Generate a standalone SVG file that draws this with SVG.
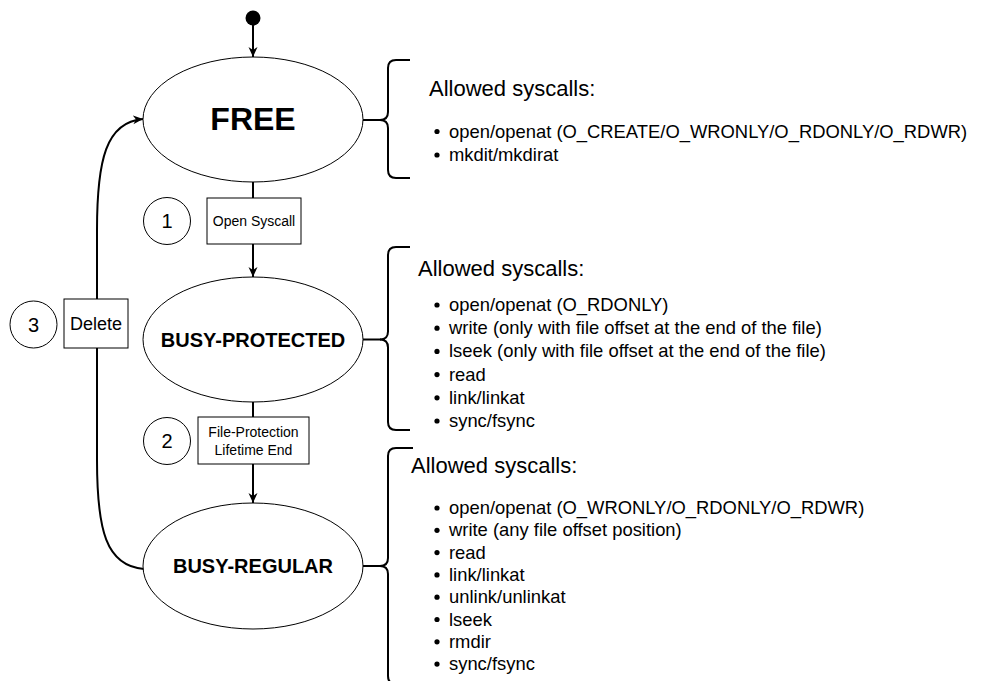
<svg xmlns="http://www.w3.org/2000/svg" width="984" height="681" viewBox="0 0 984 681">
<defs>
<marker id="arr" viewBox="0 0 10 10" refX="10" refY="5" markerWidth="10" markerHeight="10" markerUnits="userSpaceOnUse" orient="auto">
<path d="M0,0.5 L10,5 L0,9.5 L3,5 z" fill="#000"/>
</marker>
<style>
text{font-family:"Liberation Sans",Arial,Helvetica,sans-serif;fill:#000}
.state{fill:#fff;stroke:#000;stroke-width:1}
.box{fill:#fff;stroke:#000;stroke-width:1}
.num{fill:#fff;stroke:#000;stroke-width:1}
.edge{fill:none;stroke:#000;stroke-width:2}
.brace{fill:none;stroke:#000;stroke-width:2}
.title{font-size:20px;font-weight:bold;text-anchor:middle}
.lbl{font-size:14px;text-anchor:middle}
.numt{font-size:20px;text-anchor:middle}
.head{font-size:22px}
.item{font-size:18.4px}
</style>
</defs>
<rect width="984" height="681" fill="#fff"/>

<g id="connectors">
<line class="edge" x1="253" y1="25" x2="253" y2="57" marker-end="url(#arr)"/>
<line class="edge" x1="253" y1="182" x2="253" y2="198"/>
<line class="edge" x1="253" y1="244" x2="253" y2="277" marker-end="url(#arr)"/>
<line class="edge" x1="253" y1="402" x2="253" y2="417"/>
<line class="edge" x1="253" y1="464" x2="253" y2="503" marker-end="url(#arr)"/>
<path class="edge" d="M144,569 C106,566 97,530 97,460 L97,230 C97,160 106,122 143,119" marker-end="url(#arr)"/>
<line class="edge" x1="363" y1="120" x2="381" y2="120"/>
<line class="edge" x1="362" y1="339.5" x2="381" y2="339.5"/>
<line class="edge" x1="362" y1="566" x2="381" y2="566"/>
</g>

<g id="start">
<circle cx="253" cy="18" r="7.5" fill="#000"/>
</g>

<g id="free">
<ellipse class="state" cx="253" cy="119.5" rx="110" ry="62.5"/>
<text class="title" x="253" y="130" style="font-size:32px">FREE</text>
</g>

<g id="busy-protected">
<ellipse class="state" cx="253" cy="339.5" rx="110" ry="62.5"/>
<text class="title" x="253" y="346.5">BUSY-PROTECTED</text>
</g>

<g id="busy-regular">
<ellipse class="state" cx="253" cy="566" rx="110" ry="63"/>
<text class="title" x="253" y="573">BUSY-REGULAR</text>
</g>

<g id="open-syscall">
<rect class="box" x="207" y="198" width="94" height="46"/>
<text class="lbl" x="254" y="226">Open Syscall</text>
</g>
<g id="num1">
<circle class="num" cx="167" cy="221" r="23.5"/>
<text class="numt" x="167" y="228">1</text>
</g>

<g id="lifetime-end">
<rect class="box" x="198" y="417" width="111" height="47"/>
<text class="lbl" x="253.5" y="437">File-Protection</text>
<text class="lbl" x="253.5" y="455">Lifetime End</text>
</g>
<g id="num2">
<circle class="num" cx="167" cy="441" r="23.5"/>
<text class="numt" x="167" y="448">2</text>
</g>

<g id="delete">
<rect class="box" x="64" y="299" width="64" height="49"/>
<text class="lbl" x="96" y="330" style="font-size:18px">Delete</text>
</g>
<g id="num3">
<circle class="num" cx="33.5" cy="324.5" r="23.5"/>
<text class="numt" x="33.5" y="331.5">3</text>
</g>

<g id="free-syscalls">
<path class="brace" d="M410,60 L396,60 Q388,60 388,68 L388,112 Q388,120 380,120 Q388,120 388,128 L388,170 Q388,178 396,178 L410,178"/>
<text class="head" x="429" y="96">Allowed syscalls:</text>
<circle cx="437" cy="131.5" r="2.6"/>
<text class="item" x="449" y="137.5">open/openat (O_CREATE/O_WRONLY/O_RDONLY/O_RDWR)</text>
<circle cx="437" cy="155" r="2.6"/>
<text class="item" x="449" y="161">mkdit/mkdirat</text>
</g>

<g id="protected-syscalls">
<path class="brace" d="M410,247 L396,247 Q388,247 388,255 L388,331.5 Q388,339.5 380,339.5 Q388,339.5 388,347.5 L388,422 Q388,430 396,430 L410,430"/>
<text class="head" x="418" y="275.5">Allowed syscalls:</text>
<circle cx="437" cy="305" r="2.6"/>
<text class="item" x="449" y="311">open/openat (O_RDONLY)</text>
<circle cx="437" cy="328.2" r="2.6"/>
<text class="item" x="449" y="334.2">write (only with file offset at the end of the file)</text>
<circle cx="437" cy="351.4" r="2.6"/>
<text class="item" x="449" y="357.4">lseek (only with file offset at the end of the file)</text>
<circle cx="437" cy="374.6" r="2.6"/>
<text class="item" x="449" y="380.6">read</text>
<circle cx="437" cy="397.8" r="2.6"/>
<text class="item" x="449" y="403.8">link/linkat</text>
<circle cx="437" cy="421" r="2.6"/>
<text class="item" x="449" y="427">sync/fsync</text>
</g>

<g id="regular-syscalls">
<path class="brace" d="M413,448 L396,448 Q388,448 388,456 L388,558 Q388,566 380,566 Q388,566 388,574 L388,676 Q388,684 396,684 L413,684"/>
<text class="head" x="411" y="473">Allowed syscalls:</text>
<circle cx="437" cy="508" r="2.6"/>
<text class="item" x="449" y="514">open/openat (O_WRONLY/O_RDONLY/O_RDWR)</text>
<circle cx="437" cy="530.3" r="2.6"/>
<text class="item" x="449" y="536.3">write (any file offset position)</text>
<circle cx="437" cy="552.6" r="2.6"/>
<text class="item" x="449" y="558.6">read</text>
<circle cx="437" cy="574.9" r="2.6"/>
<text class="item" x="449" y="580.9">link/linkat</text>
<circle cx="437" cy="597.2" r="2.6"/>
<text class="item" x="449" y="603.2">unlink/unlinkat</text>
<circle cx="437" cy="619.5" r="2.6"/>
<text class="item" x="449" y="625.5">lseek</text>
<circle cx="437" cy="641.8" r="2.6"/>
<text class="item" x="449" y="647.8">rmdir</text>
<circle cx="437" cy="664.1" r="2.6"/>
<text class="item" x="449" y="670.1">sync/fsync</text>
</g>
</svg>
